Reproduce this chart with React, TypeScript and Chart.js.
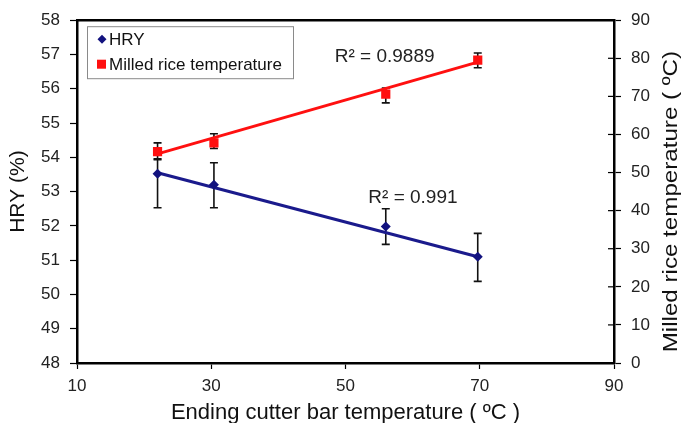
import React, { useEffect, useRef } from "react";
import { Chart, registerables } from "chart.js";

Chart.register(...registerables);

// ---- data ----
const cutterTemp = [22, 30.4, 56, 69.7];
const hry = [53.52, 53.2, 51.98, 51.1];
const hryErrLow = [52.53, 52.53, 51.46, 50.38];
const hryErrHigh = [53.96, 53.84, 52.5, 51.78];
const riceTemp = [55.5, 57.8, 70.6, 79.5];
const riceErrLow = [53.4, 56.3, 68.3, 77.5];
const riceErrHigh = [57.8, 60.2, 72.2, 81.4];
const trendX = [22, 69.7];
const hryTrend = [53.55, 51.1];
const riceTrend = [54.9, 79.0];
const seriesNames = ["HRY", "Milled rice temperature"];
const r2Labels = ["R² = 0.9889", "R² = 0.991"];
const rightTitle = "Milled rice temperature ( ºC)";

const FONT = "'Liberation Sans', Arial, sans-serif";
const NAVY = "#12127f";
const RED = "#ff1010";

const errorBarPlugin = {
  id: "errorBars",
  beforeDatasetsDraw(chart: any) {
    const ctx = chart.ctx;
    const xs = chart.scales.x;
    const groups = [
      { axis: chart.scales.y, lo: hryErrLow, hi: hryErrHigh },
      { axis: chart.scales.y1, lo: riceErrLow, hi: riceErrHigh },
    ];
    ctx.save();
    ctx.strokeStyle = "#111";
    ctx.lineWidth = 1.6;
    groups.forEach((g) => {
      cutterTemp.forEach((t, i) => {
        const px = xs.getPixelForValue(t);
        const y1 = g.axis.getPixelForValue(g.lo[i]);
        const y2 = g.axis.getPixelForValue(g.hi[i]);
        ctx.beginPath();
        ctx.moveTo(px, y1);
        ctx.lineTo(px, y2);
        ctx.moveTo(px - 4, y1);
        ctx.lineTo(px + 4, y1);
        ctx.moveTo(px - 4, y2);
        ctx.lineTo(px + 4, y2);
        ctx.stroke();
      });
    });
    ctx.restore();
  },
};

const decorPlugin = {
  id: "decor",
  afterDraw(chart: any) {
    const ctx = chart.ctx;
    const a = chart.chartArea;
    ctx.save();
    // top frame line
    ctx.strokeStyle = "#000";
    ctx.lineWidth = 2.5;
    ctx.beginPath();
    ctx.moveTo(a.left - 1, a.top);
    ctx.lineTo(a.right + 1, a.top);
    ctx.stroke();
    // inward ticks on right axis
    ctx.lineWidth = 1.2;
    const y1 = chart.scales.y1;
    y1.ticks.forEach((t: any) => {
      const py = y1.getPixelForValue(t.value);
      ctx.beginPath();
      ctx.moveTo(a.right - 6, py);
      ctx.lineTo(a.right, py);
      ctx.stroke();
    });
    // right axis title (slightly stretched along its length, as in the reference)
    ctx.save();
    ctx.translate(671, (a.top + a.bottom) / 2 + 10);
    ctx.rotate(-Math.PI / 2);
    ctx.scale(1.15, 1);
    ctx.font = `21px ${FONT}`;
    ctx.fillStyle = "#111";
    ctx.textAlign = "center";
    ctx.textBaseline = "middle";
    ctx.fillText(rightTitle, 0, 0);
    ctx.restore();
    // R² labels
    ctx.fillStyle = "#222";
    ctx.font = `19px ${FONT}`;
    ctx.textBaseline = "middle";
    ctx.textAlign = "left";
    ctx.fillText(r2Labels[0], chart.scales.x.getPixelForValue(48.4), chart.scales.y1.getPixelForValue(80.3));
    ctx.fillText(r2Labels[1], chart.scales.x.getPixelForValue(53.4), chart.scales.y.getPixelForValue(52.83));
    // legend box
    const bx = a.left + 10;
    const by = a.top + 6;
    const bw = 206;
    const bh = 52;
    ctx.fillStyle = "#fff";
    ctx.fillRect(bx, by, bw, bh);
    ctx.strokeStyle = "#8a8a8a";
    ctx.lineWidth = 1;
    ctx.strokeRect(bx + 0.5, by + 0.5, bw, bh);
    ctx.font = `17px ${FONT}`;
    ctx.fillStyle = "#111";
    // HRY item
    const r1 = by + 13;
    ctx.save();
    ctx.fillStyle = NAVY;
    ctx.translate(bx + 15, r1);
    ctx.rotate(Math.PI / 4);
    ctx.fillRect(-3.2, -3.2, 6.4, 6.4);
    ctx.restore();
    ctx.fillText(seriesNames[0], bx + 22, r1 + 1);
    // Rice item
    const r2 = by + 38;
    ctx.fillStyle = RED;
    ctx.fillRect(bx + 10, r2 - 4.5, 9, 9);
    ctx.fillStyle = "#111";
    ctx.fillText(seriesNames[1], bx + 22, r2 + 1);
    ctx.restore();
  },
};

export default function App() {
  const ref = useRef<HTMLCanvasElement>(null);
  useEffect(() => {
    if (!ref.current) return;
    const tickFont = { family: FONT, size: 17 };
    const chart = new Chart(ref.current, {
      type: "scatter",
      data: {
        datasets: [
          {
            label: seriesNames[0],
            data: cutterTemp.map((x, i) => ({ x, y: hry[i] })),
            yAxisID: "y",
            pointStyle: "rectRot",
            pointRadius: 5,
            backgroundColor: NAVY,
            borderColor: NAVY,
            borderWidth: 0,
          },
          {
            label: seriesNames[1],
            data: cutterTemp.map((x, i) => ({ x, y: riceTemp[i] })),
            yAxisID: "y1",
            pointStyle: "rect",
            pointRadius: 6.5,
            backgroundColor: RED,
            borderColor: RED,
            borderWidth: 0,
          },
          {
            label: "HRY trend",
            data: trendX.map((x, i) => ({ x, y: hryTrend[i] })),
            yAxisID: "y",
            showLine: true,
            pointRadius: 0,
            borderColor: "#1a1a8c",
            borderWidth: 3,
          },
          {
            label: "Rice trend",
            data: trendX.map((x, i) => ({ x, y: riceTrend[i] })),
            yAxisID: "y1",
            showLine: true,
            pointRadius: 0,
            borderColor: RED,
            borderWidth: 3,
          },
        ],
      },
      options: {
        responsive: false,
        animation: false,
        layout: { padding: { top: 19, left: 0, right: 0, bottom: 0 } },
        plugins: { legend: { display: false }, tooltip: { enabled: false } },
        scales: {
          x: {
            type: "linear",
            min: 10,
            max: 90,
            ticks: { stepSize: 20, font: tickFont, color: "#222", padding: 7 },
            grid: { drawOnChartArea: false, tickLength: 6, color: "#000", tickWidth: 1.2 },
            border: { color: "#000", width: 2.5 },
            title: {
              display: true,
              text: "Ending cutter bar temperature ( ºC )",
              font: { family: FONT, size: 22 },
              color: "#111",
              padding: { top: 0, bottom: -3 },
            },
            afterFit: (s: any) => {
              s.height = 60;
            },
          },
          y: {
            position: "left",
            min: 48,
            max: 58,
            ticks: { stepSize: 1, font: tickFont, color: "#222", padding: 10 },
            grid: { drawOnChartArea: false, tickLength: 7, color: "#000", tickWidth: 1.2 },
            border: { color: "#000", width: 2.5 },
            title: {
              display: true,
              text: "HRY (%)",
              font: { family: FONT, size: 21 },
              color: "#111",
              padding: { top: 6, bottom: 0 },
            },
            afterFit: (s: any) => {
              s.width = 77;
            },
          },
          y1: {
            position: "right",
            min: 0,
            max: 90,
            ticks: { stepSize: 10, font: tickFont, color: "#222", padding: 10 },
            grid: { drawOnChartArea: false, tickLength: 7, color: "#000", tickWidth: 1.2 },
            border: { color: "#000", width: 2.5 },
            title: { display: false },
            afterFit: (s: any) => {
              s.width = 67;
            },
          },
        },
      },
      plugins: [errorBarPlugin, decorPlugin],
    } as any);
    return () => chart.destroy();
  }, []);
  return (
    <div style={{ position: "absolute", left: 0, top: 0, width: 681, height: 423, background: "#fff" }}>
      <canvas ref={ref} width={681} height={423} style={{ display: "block" }} />
    </div>
  );
}
